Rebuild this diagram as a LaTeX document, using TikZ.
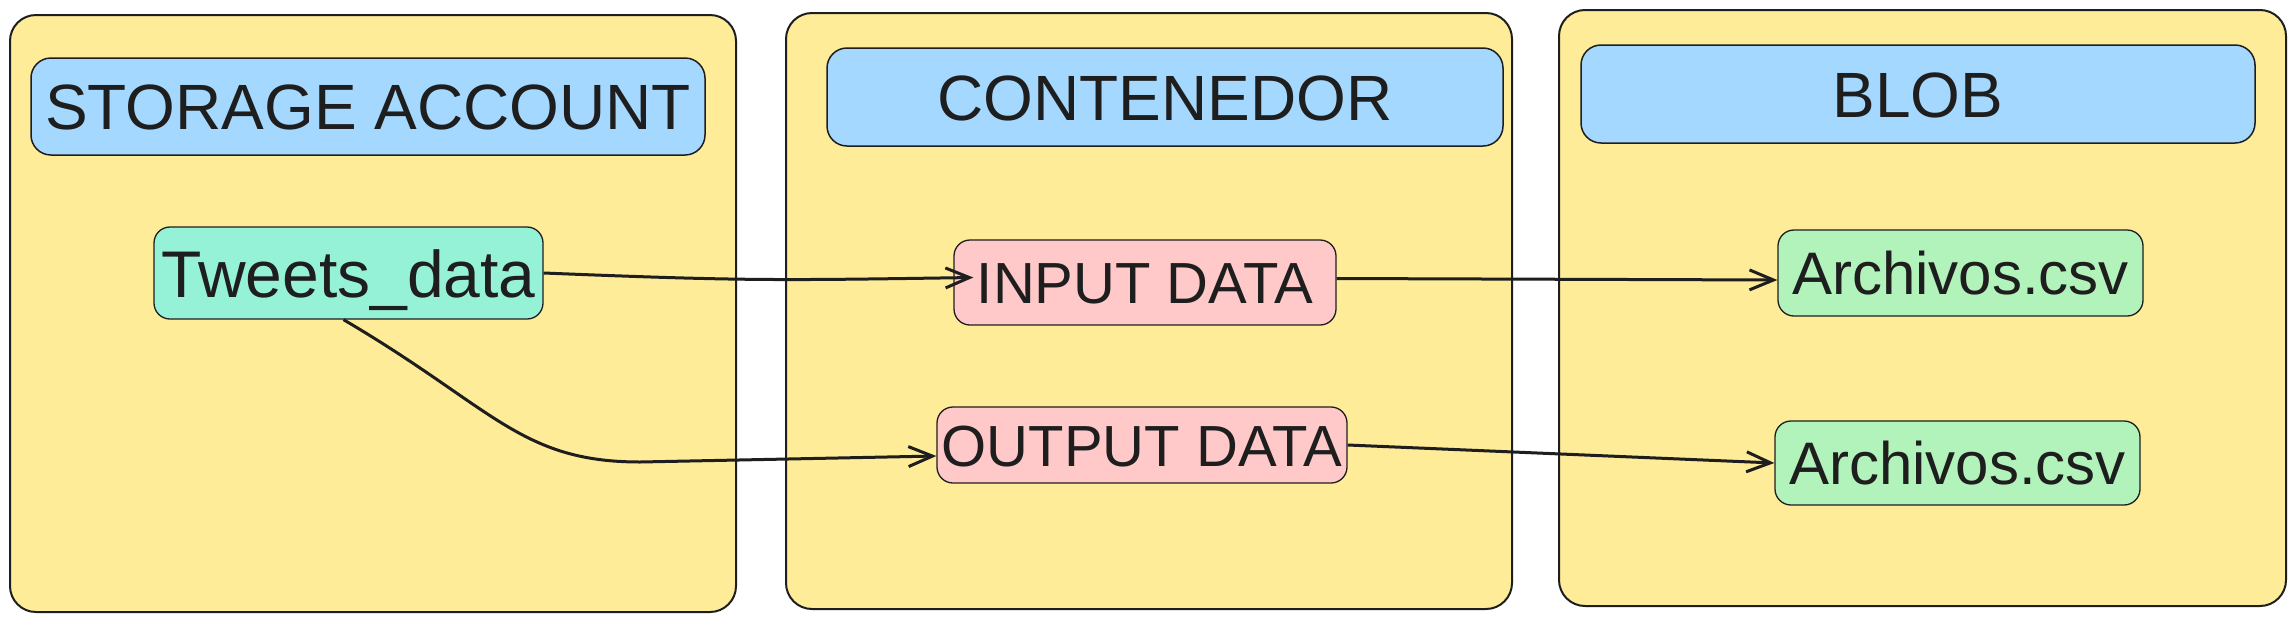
\documentclass[tikz,border=0pt]{standalone}
\usepackage{fontspec}
\setmainfont{Liberation Sans}
\usetikzlibrary{arrows.meta}
\definecolor{ink}{HTML}{1E1E1E}
\definecolor{panelfill}{HTML}{FFEC99}
\definecolor{hdrfill}{HTML}{A5D8FF}
\definecolor{mintfill}{HTML}{96F2D7}
\definecolor{pinkfill}{HTML}{FFC9C9}
\definecolor{greenfill}{HTML}{B2F2BB}
\tikzset{
  panel/.style={draw=ink, line width=2pt, fill=panelfill, rounded corners=26pt, inner sep=0pt},
  hdr/.style={draw=ink, line width=1.5pt, fill=hdrfill, rounded corners=20pt, inner sep=0pt,
     text=ink, font=\fontsize{64}{70}\selectfont, text height=46pt, text depth=0pt},
  item/.style={draw=ink, line width=1.3pt, rounded corners=16pt, inner sep=0pt, text=ink},
  conn/.style={draw=ink, line width=3pt, -{Straight Barb[length=24pt,width=20pt,line width=3pt]}}
}
\begin{document}
\begin{tikzpicture}[x=1pt,y=-1pt]
\useasboundingbox[fill=white] (0,0) rectangle (2295,622);
% panels
\node[panel, minimum width=726pt, minimum height=597pt] (p1) at (373,313.5) {};
\node[panel, minimum width=726pt, minimum height=596pt] (p2) at (1149,311) {};
\node[panel, minimum width=727pt, minimum height=596pt] (p3) at (1922.5,308) {};
% headers
\node[hdr, minimum width=674pt, minimum height=97pt] (h1) at (368,106.5) {STORAGE ACCOUNT};
\node[hdr, minimum width=676pt, minimum height=98pt] (h2) at (1165,97) {CONTENEDOR};
\node[hdr, minimum width=674pt, minimum height=98pt] (h3) at (1918,94) {BLOB};
% items
\node[item, fill=mintfill, minimum width=389pt, minimum height=92pt,
      font=\fontsize{66}{72}\selectfont, text height=48pt, text depth=0pt] (tw) at (348.5,273) {Tweets\_data};
\node[item, fill=pinkfill, minimum width=382pt, minimum height=85pt,
      font=\fontsize{58}{64}\selectfont, text height=42pt, text depth=0pt] (inp) at (1145,282.5) {INPUT DATA};
\node[item, fill=pinkfill, minimum width=410pt, minimum height=76pt,
      font=\fontsize{58}{64}\selectfont, text height=42pt, text depth=0pt] (outp) at (1142,445) {OUTPUT DATA};
\node[item, fill=greenfill, minimum width=365pt, minimum height=86pt,
      font=\fontsize{60}{66}\selectfont, text height=42pt, text depth=-10pt] (a1) at (1960.5,273) {Archivos.csv};
\node[item, fill=greenfill, minimum width=365pt, minimum height=84pt,
      font=\fontsize{60}{66}\selectfont, text height=42pt, text depth=-10pt] (a2) at (1957.5,463) {Archivos.csv};
% connectors
\coordinate (bend) at (640,462);
\draw[conn] (tw.east) .. controls +(200,8) and +(-200,3) .. ([xshift=20pt,yshift=5pt]inp.west);
\draw[conn] ([xshift=-5pt]tw.south) .. controls +(150,88) and +(-120,0) .. (bend) -- ([yshift=-11pt]outp.west);
\draw[conn] ([yshift=4pt]inp.east) -- ([yshift=-7pt]a1.west);
\draw[conn] (outp.east) -- (a2.west);
\end{tikzpicture}
\end{document}
